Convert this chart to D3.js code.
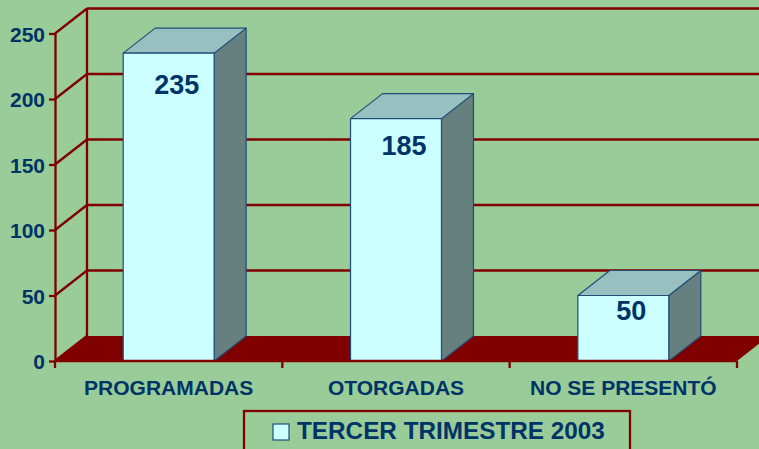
<!DOCTYPE html>
<html>
<head>
<meta charset="utf-8">
<script src="https://cdn.jsdelivr.net/npm/d3@7"></script>
<style>
  body { margin: 0; background: #99cc99; }
  svg { display: block; }
  text { font-family: Arial, "Liberation Sans", sans-serif; font-weight: bold; fill: #003366; }
</style>
</head>
<body>
<svg id="chart" width="759" height="449"></svg>
<script>
var categories = ["PROGRAMADAS", "OTORGADAS", "NO SE PRESENTÓ"];
var values = [235, 185, 50];
var yTicks = [0, 50, 100, 150, 200, 250];
var seriesName = "TERCER TRIMESTRE 2003";

var svg = d3.select("#chart");
var red = "#800000";
var depth = {dx: 32, dy: -25}; // 3d offset of the back wall

var x = d3.scaleBand()
    .domain(categories)
    .range([55, 737])
    .paddingInner(0.6)
    .paddingOuter(0.3);
var y = d3.scaleLinear().domain([0, 250]).range([361, 33.5]);

var x0 = x.range()[0], x1 = x.range()[1];

svg.append("rect").attr("width", 759).attr("height", 449).attr("fill", "#99cc99");

  // back wall gridlines + left wall diagonals
var grid = svg.append("g").attr("class", "grid")
    .attr("stroke", red).attr("stroke-width", 2.3).attr("fill", "none");
grid.selectAll("line.back").data(yTicks.slice(1)).join("line")
    .attr("class", "back")
    .attr("x1", x0 + depth.dx).attr("x2", x1 + depth.dx)
    .attr("y1", d => y(d) + depth.dy).attr("y2", d => y(d) + depth.dy);
grid.selectAll("line.side").data(yTicks).join("line")
    .attr("class", "side")
    .attr("x1", x0).attr("x2", x0 + depth.dx)
    .attr("y1", d => y(d)).attr("y2", d => y(d) + depth.dy);
grid.append("line")
    .attr("x1", x0 + depth.dx).attr("x2", x0 + depth.dx)
    .attr("y1", y(0) + depth.dy).attr("y2", y(250) + depth.dy);

  // floor
svg.append("path")
    .attr("fill", red)
    .attr("d", "M" + x0 + "," + y(0) + "L" + x1 + "," + y(0) +
      "L" + (x1 + depth.dx) + "," + (y(0) + depth.dy) +
      "L" + (x0 + depth.dx) + "," + (y(0) + depth.dy) + "Z");

  // value axis on the front left edge
var yAxis = svg.append("g")
    .attr("transform", "translate(" + x0 + ",0)")
    .call(d3.axisLeft(y).tickValues(yTicks).tickSize(6).tickPadding(4).tickSizeOuter(0));
yAxis.selectAll("path, line").attr("stroke", red).attr("stroke-width", 2.3);
yAxis.selectAll("text").attr("font-size", 21).attr("dy", "0.36em")
    .style("font-family", "Arial, 'Liberation Sans', sans-serif").attr("fill", "#003366");

  // bars
var bars = svg.append("g").attr("class", "bars")
    .attr("stroke", "#1f4e79").attr("stroke-width", 1.2).attr("stroke-linejoin", "round");
var data = categories.map((c, i) => ({cat: c, value: values[i]}));
var bar = bars.selectAll("g").data(data).join("g");
bar.append("path") // side
    .attr("fill", "#668080")
    .attr("d", d => {
      var xr = x(d.cat) + x.bandwidth(), yt = y(d.value), yb = y(0);
      return "M" + xr + "," + yt + "L" + (xr + depth.dx) + "," + (yt + depth.dy) +
        "L" + (xr + depth.dx) + "," + (yb + depth.dy) + "L" + xr + "," + yb + "Z";
    });
bar.append("path") // top
    .attr("fill", "#99c0c0")
    .attr("d", d => {
      var xl = x(d.cat), xr = xl + x.bandwidth(), yt = y(d.value);
      return "M" + xl + "," + yt + "L" + (xl + depth.dx) + "," + (yt + depth.dy) +
        "L" + (xr + depth.dx) + "," + (yt + depth.dy) + "L" + xr + "," + yt + "Z";
    });
bar.append("rect") // front
    .attr("fill", "#ccffff")
    .attr("x", d => x(d.cat))
    .attr("y", d => y(d.value))
    .attr("width", x.bandwidth())
    .attr("height", d => y(0) - y(d.value));

  // value labels
svg.append("g").selectAll("text").data(data).join("text")
    .attr("x", d => x(d.cat) + x.bandwidth() / 2 + depth.dx / 4)
    .attr("y", d => y(d.value) + 20 + 0.09 * d.value)
    .attr("text-anchor", "middle")
    .attr("font-size", 27)
    .text(d => d.value);

  // category axis along the front floor edge
var xAxis = svg.append("g")
    .attr("transform", "translate(0," + y(0) + ")")
    .call(d3.axisBottom(x).tickSize(0).tickPadding(19).tickSizeOuter(0));
xAxis.select("path.domain").remove();
xAxis.selectAll("text").attr("font-size", 21)
    .style("font-family", "Arial, 'Liberation Sans', sans-serif").attr("fill", "#003366");
xAxis.append("line")
    .attr("x1", x0).attr("x2", x1)
    .attr("stroke", red).attr("stroke-width", 2.3);
xAxis.selectAll("line.tick-mark").data(d3.range(categories.length + 1)).join("line")
    .attr("class", "tick-mark")
    .attr("x1", i => x0 + i * x.step()).attr("x2", i => x0 + i * x.step())
    .attr("y1", 0).attr("y2", 7)
    .attr("stroke", red).attr("stroke-width", 2.3);

  // legend
var legend = svg.append("g").attr("transform", "translate(244,411)");
legend.append("rect")
    .attr("width", 386).attr("height", 60)
    .attr("fill", "none").attr("stroke", red).attr("stroke-width", 2.3);
legend.append("rect")
    .attr("x", 29).attr("y", 13).attr("width", 16).attr("height", 16)
    .attr("fill", "#ccffff").attr("stroke", "#1f4e79").attr("stroke-width", 1.2);
legend.append("text")
    .attr("x", 53).attr("y", 28)
    .attr("font-size", 24.3)
    .text(seriesName);
</script>
</body>
</html>
